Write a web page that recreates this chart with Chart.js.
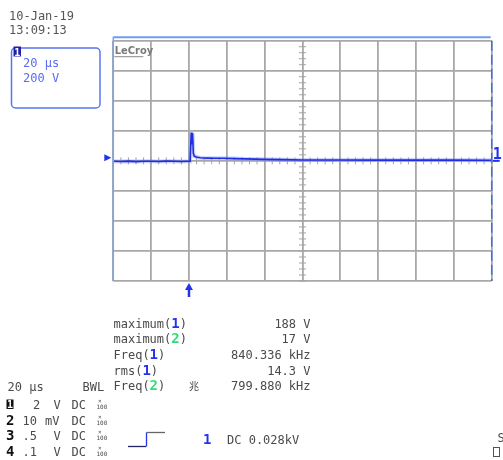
<!DOCTYPE html>
<html><head><meta charset="utf-8">
<script src="https://cdn.jsdelivr.net/npm/chart.js@4"></script>
<style>html,body{margin:0;padding:0;background:#fff;overflow:hidden}canvas{display:block}</style>
</head><body>
<canvas id="c" width="503" height="460"></canvas>
<script>
// ---- data ----
const timeUs   = [-40,-36,-32,-28,-24,-20,-16,-12,-8,-4,0,0.6,1.0,1.2,1.5,1.9,2.3,2.8,3.5,4.5,6,8,10,14,18,24,30,40,50,60,80,100,120,140,160];
const ch1Volts = [-3,-4,-2,-5,-3,-3,-4,-2,-3,-4,-3,-3,-3,188,110,183,50,32,28,24,21,19,18,17,17,15,13,10,8,6,6,5,5,5,4];
const xTicksUs = {min:-40, max:160, step:20};   // 20 us/div, 10 div
const yTicksV  = {min:-800, max:800, step:200}; // 200 V/div, 8 div
const dateLines = ['10-Jan-19','13:09:13'];
const boxLines = ['20 μs','200 V'];
const measureNames = ['maximum','maximum','Freq','rms','Freq'];
const measureCh    = ['1','2','1','1','2'];
const measureValues= ['188 V','17 V','840.336 kHz','14.3 V','799.880 kHz'];
const chanNums  = ['1','2','3','4'];
const chanScale = ['2','10','.5','.1'];
const chanUnit  = ['V','mV','V','V'];
const timebase = '20 μs';
const trigText = 'DC 0.028kV';

const MONO = '"DejaVu Sans Mono", "Liberation Mono", monospace';
const GRAY = '#4a4a4a';
const BLUE = '#2233ee';
const GREEN = '#2fdc78';

function seg(ctx, x, y, parts){
  for(const [t,c,f] of parts){ ctx.font=f; ctx.fillStyle=c; ctx.fillText(t,x,y); x+=ctx.measureText(t).width; }
  return x;
}
function ln(ctx,x1,y1,x2,y2){ctx.beginPath();ctx.moveTo(x1,y1);ctx.lineTo(x2,y2);ctx.stroke();}

const overlay = {
  id:'overlay',
  beforeDatasetsDraw(chart){
    const {ctx, scales:{x,y}} = chart;
    ctx.save();
    ctx.strokeStyle='#a4a4a4'; ctx.lineWidth=1;
    const y0 = y.getPixelForValue(0), xc = x.getPixelForValue(60);
    for(let t=xTicksUs.min; t<=xTicksUs.max; t+=xTicksUs.step/5){ const px=x.getPixelForValue(t); ln(ctx,px,y0-3.5,px,y0+3.5); }
    for(let v=yTicksV.min; v<=yTicksV.max; v+=yTicksV.step/5){ const py=y.getPixelForValue(v); ln(ctx,xc-3.5,py,xc+3.5,py); }
    ctx.restore();
  },
  afterDraw(chart){
    const {ctx, chartArea:a, scales:{x,y}} = chart;
    ctx.save();
    // blue frame parts
    ctx.strokeStyle='#6e9ef2'; ctx.lineWidth=2;
    ln(ctx,a.left,a.top-3.5,a.right-1,a.top-3.5);
    ctx.strokeStyle='#7aa6f4'; ctx.lineWidth=1.5;
    ln(ctx,a.left,a.top-4,a.left,a.bottom);
    ctx.strokeStyle='#3f6fe8'; ctx.lineWidth=1.5; ctx.setLineDash([10,4]);
    ln(ctx,a.right,a.top,a.right,a.bottom);
    ctx.setLineDash([]);
    // channel 1 ground marker
    const y0=y.getPixelForValue(0);
    ctx.fillStyle=BLUE;
    ctx.beginPath(); ctx.moveTo(a.left-9,y0-6.5); ctx.lineTo(a.left-9,y0+0.5); ctx.lineTo(a.left-2,y0-3); ctx.closePath(); ctx.fill();
    // right "1" marker
    ctx.font='bold 15px '+MONO; ctx.fillStyle=BLUE; ctx.fillText('1',a.right+1,y0-2);
    ctx.strokeStyle=BLUE; ctx.lineWidth=2; ln(ctx,a.right+1,y0,a.right+8,y0);
    // trigger arrow
    const xt=x.getPixelForValue(0);
    ctx.lineWidth=2.5; ln(ctx,xt,a.bottom+8,xt,a.bottom+16);
    ctx.beginPath(); ctx.moveTo(xt-4,a.bottom+9); ctx.lineTo(xt+4,a.bottom+9); ctx.lineTo(xt,a.bottom+2); ctx.closePath(); ctx.fill();
    // LeCroy
    ctx.font='bold 11px "DejaVu Sans Condensed", "DejaVu Sans", sans-serif'; ctx.fillStyle='#7a7a7a';
    ctx.fillText('LeCroy',a.left+1.5,a.top+13.5);
    ctx.strokeStyle='#8a8a8a'; ctx.lineWidth=1; ln(ctx,a.left+1,a.top+16,a.left+30,a.top+16);
    // date
    ctx.font='12px '+MONO; ctx.fillStyle='#555';
    ctx.fillText(dateLines[0],9,19.5); ctx.fillText(dateLines[1],9,34);
    // channel box
    ctx.strokeStyle='#5a74f0'; ctx.lineWidth=1.5;
    ctx.beginPath(); ctx.roundRect(11.5,48,88.5,60,4); ctx.stroke();
    ctx.fillStyle='#2020a8'; ctx.fillRect(13.5,46.5,7.5,10);
    ctx.font='bold 10px '+MONO; ctx.fillStyle='#fff'; ctx.fillText('1',14.3,55.5);
    ctx.font='12px '+MONO; ctx.fillStyle='#5a6cf0';
    ctx.fillText(boxLines[0],23,67); ctx.fillText(boxLines[1],23,82);
    // measurements
    const mb=[327.5,343.2,358.8,374.5,390.2];
    for(let i=0;i<5;i++){
      const cc = measureCh[i]==='1'?BLUE:GREEN;
      seg(ctx,113.5,mb[i],[[measureNames[i]+'(',GRAY,'12px '+MONO],[measureCh[i],cc,'bold 14px '+MONO],[')',GRAY,'12px '+MONO]]);
      ctx.font='12px '+MONO; ctx.fillStyle=GRAY; ctx.textAlign='right';
      ctx.fillText(measureValues[i],310.5,mb[i]); ctx.textAlign='left';
    }
    ctx.font='10px "Noto Sans CJK SC", sans-serif'; ctx.fillStyle=GRAY; ctx.fillText('兆',189,390);
    // timebase row
    ctx.font='12px '+MONO; ctx.fillStyle=GRAY;
    ctx.fillText(timebase,7.5,390.5); ctx.fillText('BWL',82.5,390.5);
    // channel rows
    const cb=[408.5,424.5,440,455.5];
    for(let i=0;i<4;i++){
      if(i===0){ ctx.fillStyle='#111'; ctx.fillRect(6.5,399.5,7,9.5); ctx.font='bold 10px '+MONO; ctx.fillStyle='#fff'; ctx.fillText('1',7,408); }
      else { ctx.font='bold 14px '+MONO; ctx.fillStyle='#111'; ctx.fillText(chanNums[i],6,cb[i]); }
      ctx.font='12px '+MONO; ctx.fillStyle=GRAY;
      const sx = chanScale[i].length===1 ? 33 : 22.5;
      ctx.fillText(chanScale[i],sx,cb[i]);
      ctx.fillText(chanUnit[i], chanUnit[i]==='mV'?45:53.5, cb[i]);
      ctx.fillText('DC',71.5,cb[i]);
      ctx.font='6px '+MONO; ctx.fillText('×',98,cb[i]-6); ctx.fillText('100',96.5,cb[i]);
    }
    // trigger icon
    ctx.lineWidth=1.3;
    ctx.strokeStyle='#222266'; ln(ctx,128,446.5,146,446.5);
    ctx.strokeStyle=BLUE; ln(ctx,146.5,446.5,146.5,432.5);
    ctx.strokeStyle='#666'; ln(ctx,146.5,432.5,165,432.5);
    ctx.font='bold 14px '+MONO; ctx.fillStyle=BLUE; ctx.fillText('1',203,443.5);
    ctx.font='12px '+MONO; ctx.fillStyle=GRAY; ctx.fillText(trigText,227,443.5);
    ctx.fillText('S',497.5,442);
    ctx.strokeStyle='#555'; ctx.lineWidth=1; ctx.strokeRect(493.5,447.5,6,9);
    ctx.restore();
  }
};

const pts = timeUs.map((t,i)=>({x:t,y:ch1Volts[i]}));
new Chart(document.getElementById('c'),{
  type:'line',
  data:{datasets:[
    {data:pts,borderColor:'#1e2de6',borderWidth:1.6,pointRadius:0,tension:0,order:1},
    {data:pts,borderColor:'rgba(110,130,255,0.35)',borderWidth:4,pointRadius:0,tension:0,order:2}
  ]},
  options:{
    responsive:false, animation:false, events:[],
    layout:{padding:{left:113.3,top:40.7,right:11.3,bottom:179}},
    plugins:{legend:{display:false},tooltip:{enabled:false}},
    scales:{
      x:{type:'linear',min:xTicksUs.min,max:xTicksUs.max,
         ticks:{display:false,stepSize:xTicksUs.step},
         grid:{color:'#a8a8a8',lineWidth:1.8,drawTicks:false},border:{display:false}},
      y:{type:'linear',min:yTicksV.min,max:yTicksV.max,
         ticks:{display:false,stepSize:yTicksV.step},
         grid:{color:'#a8a8a8',lineWidth:1.8,drawTicks:false},border:{display:false}}
    }
  },
  plugins:[overlay]
});
</script>
</body></html>
